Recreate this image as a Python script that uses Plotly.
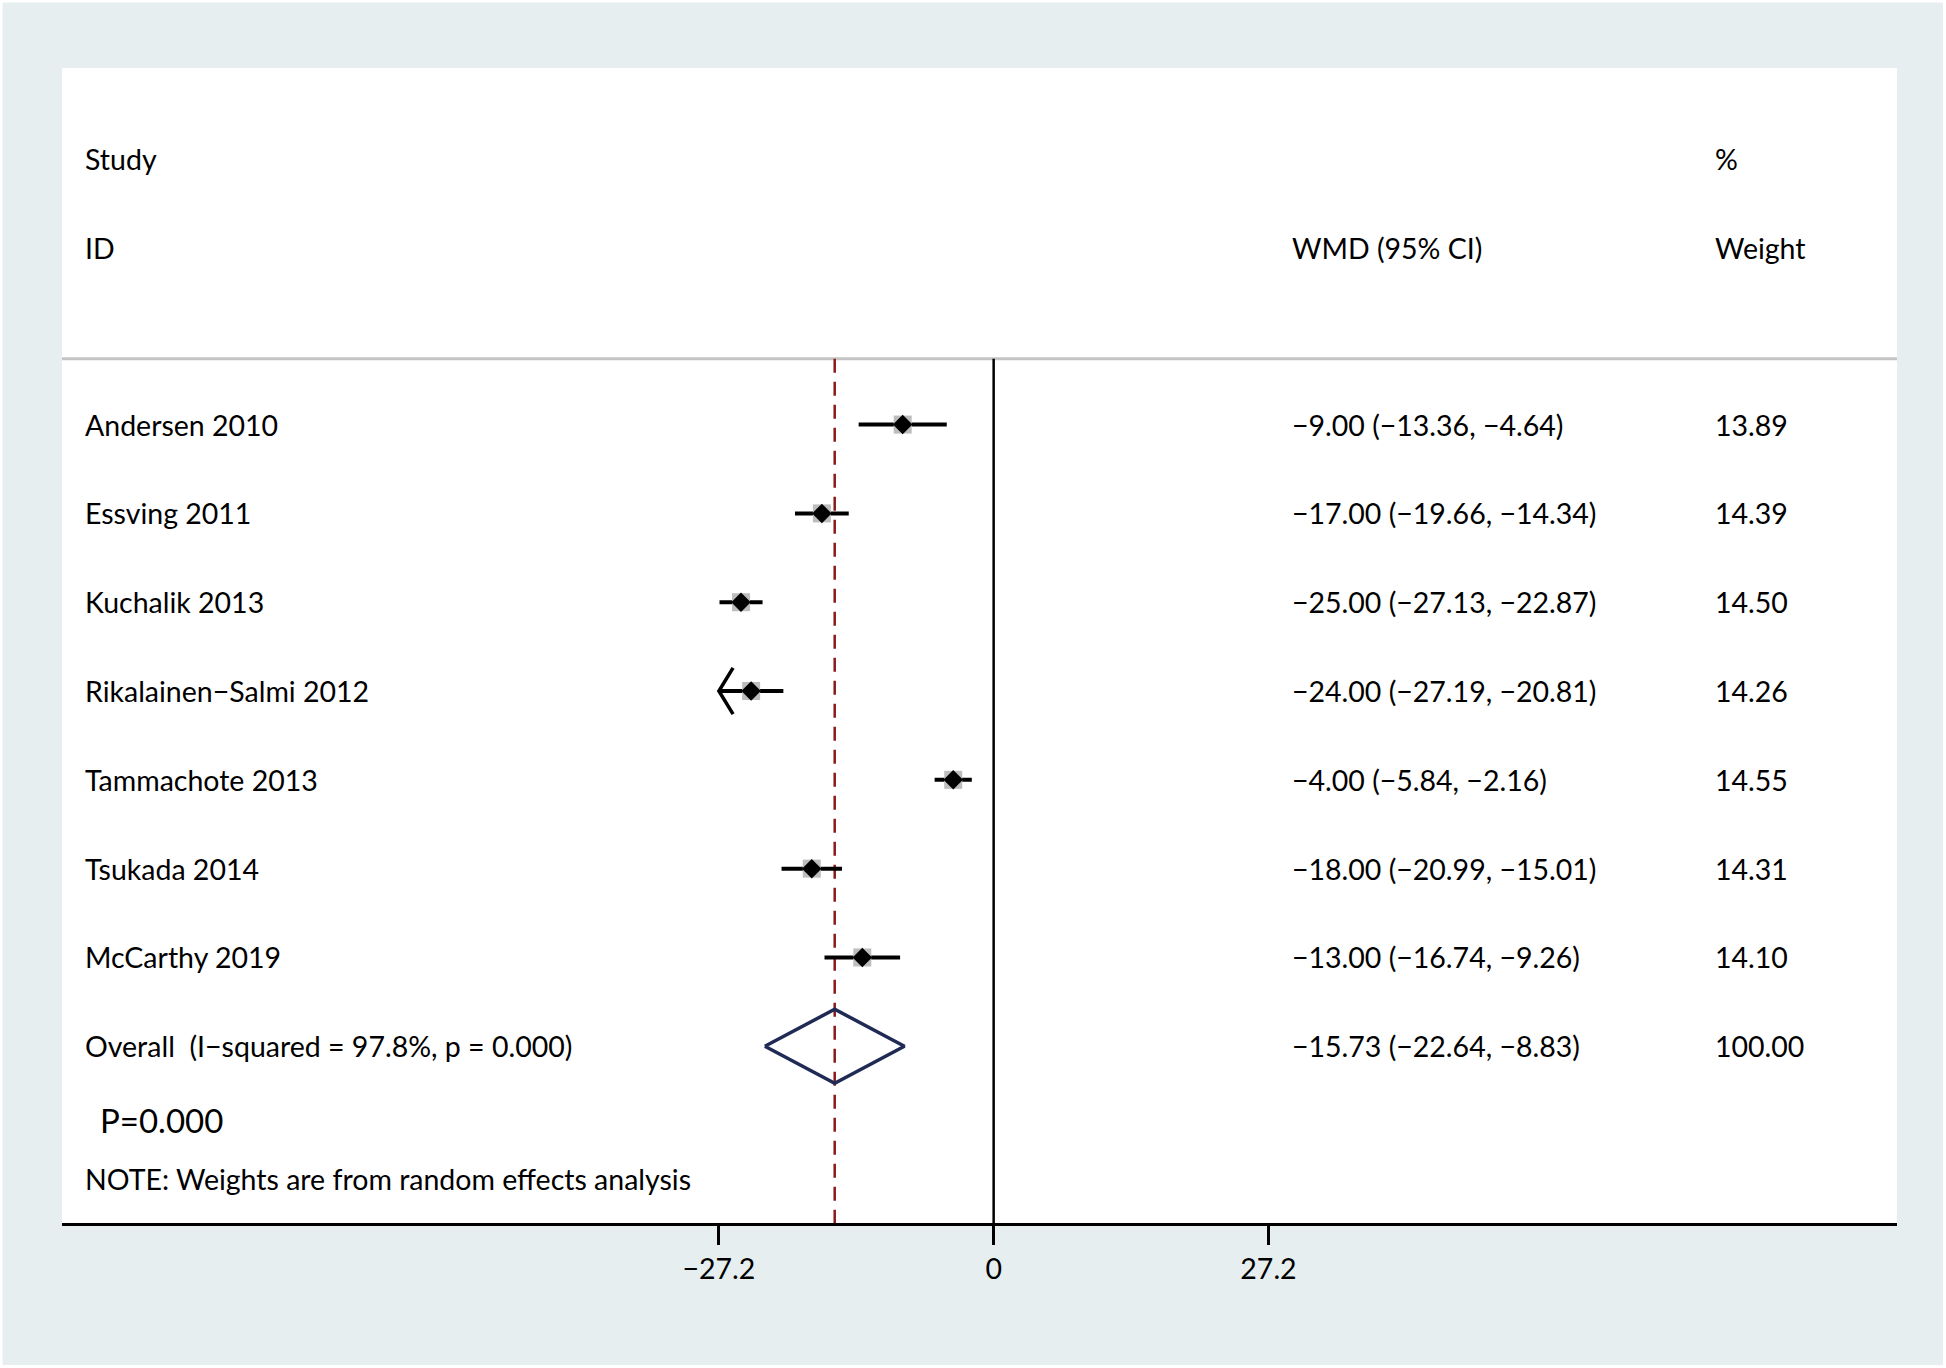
import plotly.graph_objects as go

# ---------------- data ----------------
studies = ["Andersen 2010", "Essving 2011", "Kuchalik 2013", "Rikalainen\u2212Salmi 2012",
           "Tammachote 2013", "Tsukada 2014", "McCarthy 2019"]
wmd = [-9.00, -17.00, -25.00, -24.00, -4.00, -18.00, -13.00]
ci_lo = [-13.36, -19.66, -27.13, -27.19, -5.84, -20.99, -16.74]
ci_hi = [-4.64, -14.34, -22.87, -20.81, -2.16, -15.01, -9.26]
weights = [13.89, 14.39, 14.50, 14.26, 14.55, 14.31, 14.10]
clipped_left = [False, False, False, True, False, False, False]

overall_label = "Overall  (I\u2212squared = 97.8%, p = 0.000)"
overall_est = -15.73
overall_lo = -22.64
overall_hi = -8.83
overall_weight = 100.00

tick_vals = [-27.2, 0, 27.2]
tick_text = ["\u221227.2", "0", "27.2"]

# ---------------- layout constants ----------------
W, H = 1946, 1368
ML, MR, MT, MB = 62, 49, 68, 145
XMIN, XMAX = -92.2, 89.4
YMIN, YMAX = -8.99, 4.015
FONT = "Lato"
FS = 28.5
BG = "#E6EEF0"

def m(v):
    return f"{v:.2f}".replace("-", "\u2212")

n = len(studies)
ys = [-i for i in range(n)]
y_over = -n

fig = go.Figure()

# CI lines
for i in range(n):
    fig.add_trace(go.Scatter(x=[ci_lo[i], ci_hi[i]], y=[ys[i], ys[i]], mode="lines",
                             line=dict(color="black", width=4), hoverinfo="skip", showlegend=False))
    if clipped_left[i]:
        fig.add_trace(go.Scatter(x=[ci_lo[i] + 1.4, ci_lo[i], ci_lo[i] + 1.4],
                                 y=[ys[i] + 0.26, ys[i], ys[i] - 0.26], mode="lines",
                                 line=dict(color="black", width=3.5), hoverinfo="skip", showlegend=False))

# weight boxes
fig.add_trace(go.Scatter(x=wmd, y=ys, mode="markers",
                         marker=dict(symbol="square", size=18, color="#BDBDBD", line=dict(width=0)),
                         hoverinfo="skip", showlegend=False))
# point estimates
fig.add_trace(go.Scatter(x=wmd, y=ys, mode="markers",
                         marker=dict(symbol="diamond", size=15, color="black", line=dict(width=0)),
                         hoverinfo="skip", showlegend=False))

# overall diamond
hh = 0.417
fig.add_trace(go.Scatter(x=[overall_lo, overall_est, overall_hi, overall_est, overall_lo],
                         y=[y_over, y_over + hh, y_over, y_over - hh, y_over],
                         mode="lines", line=dict(color="#1F2A55", width=3.5),
                         hoverinfo="skip", showlegend=False))

# reference lines
y_sep = 0.74
fig.add_shape(type="line", xref="paper", x0=0, x1=1, y0=y_sep, y1=y_sep,
              line=dict(color="#C4C4C4", width=3), layer="below")
fig.add_shape(type="line", x0=0, x1=0, y0=y_sep, y1=YMIN,
              line=dict(color="black", width=2.5), layer="below")
fig.add_shape(type="line", x0=overall_est, x1=overall_est, y0=y_sep, y1=YMIN,
              line=dict(color="#8B1A1A", width=2.5, dash="14px,9px"), layer="below")

# thin white frame around the figure
pw = W - ML - MR
ph = H - MT - MB
fig.add_shape(type="rect", xref="paper", yref="paper",
              x0=(1 - ML) / pw, x1=1 + (MR - 1.5) / pw,
              y0=-(MB - 1.5) / ph, y1=1 + (MT - 1) / ph,
              line=dict(color="white", width=3), fillcolor="rgba(0,0,0,0)", layer="below")

# ---------------- text ----------------
x_left = -90.1
x_wmd = (1290 - 993.4) / 10.10
x_wt = (1712 - 993.4) / 10.10

def txt(x, y, s, size=FS):
    fig.add_annotation(x=x, y=y, text=s, showarrow=False, xanchor="left", yanchor="middle",
                       font=dict(family=FONT, size=size, color="black"))

txt(x_left, 2.99, "Study")
txt(x_left, 1.99, "ID")
txt(x_wmd, 1.99, "WMD (95% CI)")
txt(x_wt, 2.99, "%")
txt(x_wt, 1.99, "Weight")

for i in range(n):
    txt(x_left, ys[i], studies[i])
    txt(x_wmd, ys[i], f"{m(wmd[i])} ({m(ci_lo[i])}, {m(ci_hi[i])})")
    txt(x_wt, ys[i], f"{weights[i]:.2f}")

txt(x_left, y_over, overall_label)
txt(x_wmd, y_over, f"{m(overall_est)} ({m(overall_lo)}, {m(overall_hi)})")
txt(x_wt, y_over, f"{overall_weight:.2f}")

txt(-88.6, -7.83, "P=0.000", size=33)
txt(x_left, -8.5, "NOTE: Weights are from random effects analysis")

fig.update_layout(
    width=W, height=H,
    margin=dict(l=ML, r=MR, t=MT, b=MB),
    paper_bgcolor=BG, plot_bgcolor="white",
    xaxis=dict(range=[XMIN, XMAX], showgrid=False, zeroline=False,
               showline=True, linecolor="black", linewidth=3,
               ticks="outside", ticklen=19, tickwidth=2.5, tickcolor="black",
               tickvals=tick_vals, ticktext=tick_text,
               tickfont=dict(family=FONT, size=FS, color="black")),
    yaxis=dict(range=[YMIN, YMAX], showgrid=False, zeroline=False, showline=False,
               showticklabels=False, ticks=""),
    showlegend=False,
)

fig.write_html("out.html", config={"displayModeBar": False},
               post_script="document.body.style.margin='0px';document.body.style.overflow='hidden';")
